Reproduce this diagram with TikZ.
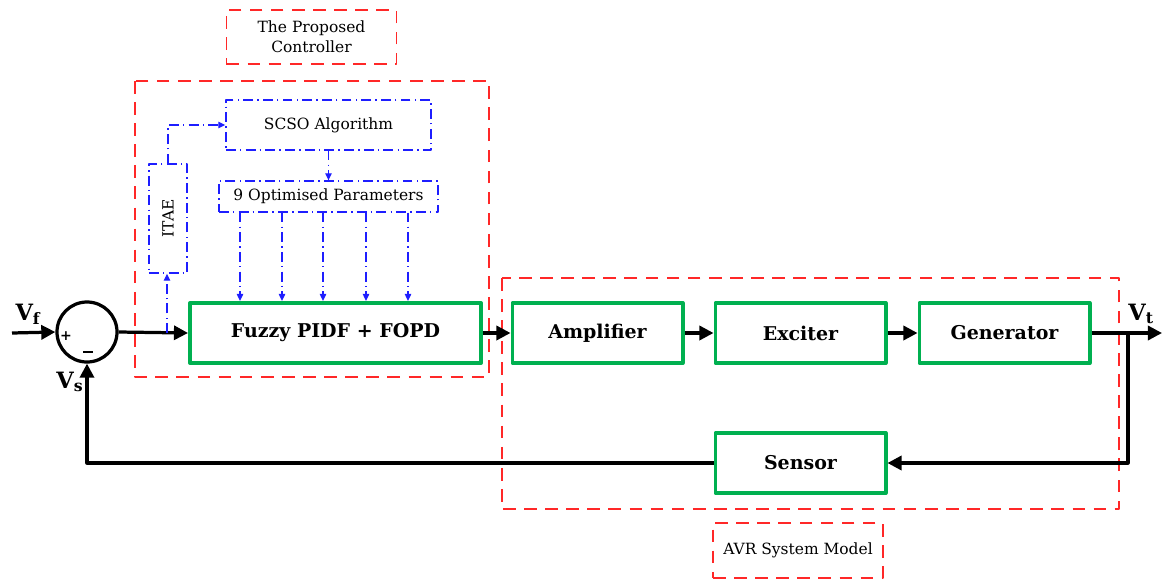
\documentclass[tikz,border=0pt]{standalone}
\usepackage{fontspec}
\setmainfont{DejaVu Serif}
\usetikzlibrary{arrows.meta}
\definecolor{boxgreen}{RGB}{0,176,80}
\definecolor{dashred}{RGB}{255,40,40}
\definecolor{optblue}{RGB}{30,30,255}
\begin{document}
\begin{tikzpicture}[x=0.025cm, y=-0.025cm, line join=round,
    block/.style={draw=boxgreen, line width=2.8pt, minimum width=4.25cm, minimum height=1.5cm, font=\fontsize{13.5}{15}\selectfont\bfseries},
    sig/.style={line width=2.3pt, -{Triangle[length=10pt,width=10pt]}},
    region/.style={draw=dashred, line width=1.2pt, dash pattern=on 9pt off 6pt},
    tag/.style={region, minimum width=4.25cm, minimum height=1.36cm, align=center, font=\fontsize{11}{14}\selectfont},
    optbox/.style={draw=optblue, line width=0.9pt, dash pattern=on 7pt off 3pt on 1pt off 3pt, font=\fontsize{11}{13}\selectfont},
    opt/.style={optblue, line width=0.9pt, dash pattern=on 7pt off 3pt on 1pt off 3pt, -{Triangle[length=5pt,width=4.5pt]}},
    lbl/.style={font=\fontsize{16}{18}\selectfont\bfseries}]
\useasboundingbox (0,0) rectangle (1162,579);
% dashed regions
\draw[region] (135,81) rectangle (489,377);
\draw[region] (502,278) rectangle (1119,509);
\node[tag] (ctrltag) at (311.5,37) {The Proposed\\Controller};
\node[tag] (avrtag) at (798,550.5) {AVR System Model};
% main loop
\node[draw, line width=2.3pt, circle, minimum size=1.5cm] (sum) at (87,332) {};
\node at (66,336) {\bfseries +};
\node at (88,352) {\rule{7pt}{1.2pt}};
\node[block, minimum width=7.275cm] (fuzzy) at (335.5,333) {Fuzzy PIDF + FOPD};
\node[block] (amp) at (597.5,333) {Amplifier};
\node[block] (exc) at (800.5,333) {Exciter};
\node[block] (gen) at (1004.5,333) {Generator};
\node[block] (sens) at (800.5,463) {Sensor};
\coordinate (in) at (12,333);
\coordinate (out) at (1162,333);
\coordinate (tap) at (1128,333);
\coordinate (etap) at (167,333);
\draw[sig] (in) -- (sum.west);
\draw[sig] (sum.east) -- (fuzzy.west);
\draw[sig] (fuzzy) -- (amp);
\draw[sig] (amp) -- (exc);
\draw[sig] (exc) -- (gen);
\draw[sig] (gen.east) -- (out);
\draw[sig] (tap) |- (sens.east);
\draw[sig] (sens.west) -| (sum.south);
\node[lbl] (vf) at (28,314) {V\textsubscript{f}};
\node[lbl] (vs) at (70,382) {V\textsubscript{s}};
\node[lbl] (vt) at (1141,314) {V\textsubscript{t}};
% optimiser
\node[optbox, minimum width=5.125cm, minimum height=1.25cm] (scso) at (328.5,125) {SCSO Algorithm};
\node[optbox, minimum width=5.475cm, minimum height=0.775cm] (par) at (328.5,196.5) {9 Optimised Parameters};
\node[optbox, minimum width=0.95cm, minimum height=2.725cm] (itae) at (168,218.5) {\rotatebox{90}{ITAE}};
\draw[opt] (etap) -- (etap |- itae.south);
\draw[opt] (itae.north) |- (scso.west);
\draw[opt] (scso.south) -- (par.north);
\foreach \x in {240,282,323,366,408}
  \draw[opt] (par.south -| \x,0) -- (fuzzy.north -| \x,0);
\end{tikzpicture}
\end{document}
